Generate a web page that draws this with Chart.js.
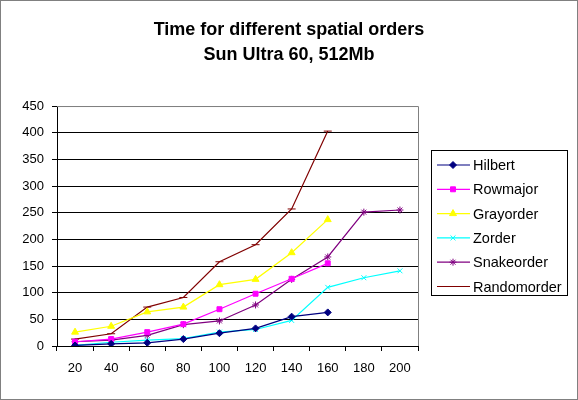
<!DOCTYPE html>
<html>
<head>
<meta charset="utf-8">
<script src="https://cdn.jsdelivr.net/npm/chart.js@4"></script>
<style>
  html, body { margin: 0; padding: 0; background: #fff; }
  #wrap { width: 578px; height: 400px; }
</style>
</head>
<body>
<div id="wrap"><canvas id="myChart" width="578" height="400"></canvas></div>
<script>
const sizes = ['20', '40', '60', '80', '100', '120', '140', '160', '180', '200']
const hilbert = [1, 4, 6, 13, 24, 33, 55, 63, null, null]
const rowmajor = [8, 13, 26, 41, 69, 98, 126, 155, null, null]
const grayorder = [26, 37, 64, 73, 115, 125, 175, 237, null, null]
const zorder = [1, 7, 11, 14, 26, 31, 48, 110, 128, 141]
const snakeorder = [8, 11, 20, 40, 47, 77, 125, 167, 251, 255]
const randomorder = [13, 23, 73, 91, 158, 190, 257, 403, null, null]
const yTicks = [0, 50, 100, 150, 200, 250, 300, 350, 400, 450]

const FONT = 'Arial, "Liberation Sans", sans-serif'

function series(label, data, color, style, radius) {
    return {
        label: label,
        data: data,
        borderColor: color,
        backgroundColor: color,
        borderWidth: 1.2,
        pointStyle: style,
        pointRadius: radius,
        pointHoverRadius: radius,
        pointBorderWidth: 1,
        fill: false,
        tension: 0,
        spanGaps: false
    }
}

// excel-like legend box on the right
const boxLegend = {
    id: 'boxLegend',
    afterDraw(chart) {
        const ctx = chart.ctx
        const x0 = 431, y0 = 150, w = 136, h = 145
        ctx.save()
        ctx.strokeStyle = '#000'
        ctx.lineWidth = 1
        ctx.strokeRect(x0 + 0.5, y0 + 0.5, w, h)
        ctx.font = '14.5px ' + FONT
        ctx.textBaseline = 'middle'
        ctx.fillStyle = '#000'
        chart.data.datasets.forEach((ds, i) => {
            const y = 165 + i * 24.3
            ctx.strokeStyle = ds.borderColor
            ctx.lineWidth = 1.2
            ctx.beginPath()
            ctx.moveTo(437, y)
            ctx.lineTo(470, y)
            ctx.stroke()
            if (Chart.helpers && Chart.helpers.drawPoint) {
                ctx.fillStyle = ds.backgroundColor
                ctx.lineWidth = 1
                Chart.helpers.drawPoint(ctx, {pointStyle: ds.pointStyle, radius: ds.pointRadius, borderWidth: 1}, 453, y)
            }
            ctx.fillStyle = '#000'
            ctx.fillText(ds.label, 473, y + 1)
        })
        // plot frame (top / right) and outer border
        const a = chart.chartArea
        ctx.strokeStyle = '#808080'
        ctx.lineWidth = 1
        ctx.beginPath()
        ctx.moveTo(a.left, a.top + 0.5)
        ctx.lineTo(a.right + 0.5, a.top + 0.5)
        ctx.lineTo(a.right + 0.5, a.bottom)
        ctx.stroke()
        ctx.strokeRect(0.5, 0.5, chart.width - 1, chart.height - 1)
        ctx.restore()
    }
}

function drawChart() {
    const ctx = document.getElementById('myChart')
    const data = {
        labels: sizes,
        datasets: [
            series('Hilbert', hilbert, '#000080', 'rectRot', 3.5),
            series('Rowmajor', rowmajor, '#FF00FF', 'rect', 3.5),
            series('Grayorder', grayorder, '#FFFF00', 'triangle', 4),
            series('Zorder', zorder, '#00FFFF', 'crossRot', 3.5),
            series('Snakeorder', snakeorder, '#800080', 'star', 3.5),
            series('Randomorder', randomorder, '#800000', 'line', 4)
        ]
    }

    const config = {
        type: 'line',
        data: data,
        plugins: [boxLegend],
        options: {
            responsive: false,
            animation: false,
            layout: {padding: 0},
            plugins: {
                legend: {display: false},
                tooltip: {enabled: false},
                title: {
                    display: true,
                    text: ['Time for different spatial orders', 'Sun Ultra 60, 512Mb'],
                    color: '#000',
                    font: {family: FONT, size: 18, weight: 'bold', lineHeight: 1.39},
                    padding: {top: 18, bottom: 38}
                }
            },
            scales: {
                x: {
                    offset: true,
                    grid: {display: true, drawOnChartArea: false, drawTicks: true, tickLength: 5, color: '#000', offset: true},
                    border: {color: '#000'},
                    ticks: {color: '#000', font: {family: FONT, size: 13}, padding: 10, maxRotation: 0},
                    afterFit(scale) { scale.height = 54 }
                },
                y: {
                    min: 0,
                    max: 450,
                    afterBuildTicks(scale) { scale.ticks = yTicks.map(v => ({value: v})) },
                    grid: {color: (c) => c.tick && c.tick.value === 450 ? '#808080' : '#000', tickColor: '#000', tickLength: 5},
                    border: {color: '#000'},
                    ticks: {color: '#000', font: {family: FONT, size: 13}, padding: 8},
                    afterFit(scale) { scale.width = 57 }
                },
                // empty right-hand space reserved for the legend box
                room: {
                    position: 'right',
                    min: 0,
                    max: 450,
                    grid: {display: false},
                    border: {display: false},
                    ticks: {display: false},
                    afterFit(scale) { scale.width = 160 }
                }
            }
        }
    }

    new Chart(ctx, config)
}

document.addEventListener('DOMContentLoaded', drawChart)
</script>
</body>
</html>
